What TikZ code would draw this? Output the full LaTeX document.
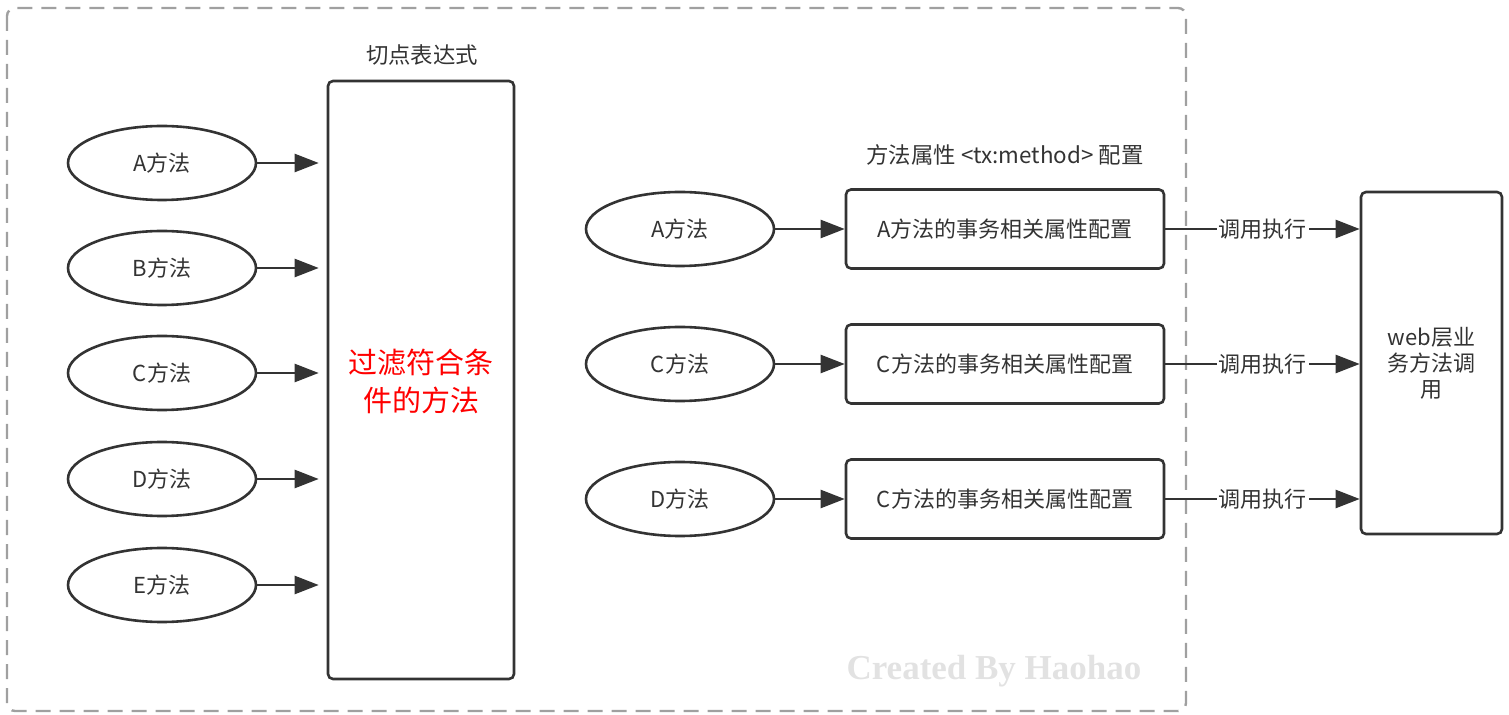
\documentclass[tikz,border=0pt]{standalone}
\usepackage{fontspec}
\setmainfont{Noto Sans CJK SC}
\newfontfamily\wmfont{Liberation Serif}
\usetikzlibrary{shapes.geometric,arrows.meta}
\definecolor{ink}{HTML}{333333}
\definecolor{frame}{HTML}{A0A0A0}
\definecolor{wmark}{HTML}{E2E2E2}
\tikzset{
  meth/.style={ellipse, draw=ink, line width=1.3pt, minimum width=94pt, minimum height=37pt, inner sep=0pt, text=ink, font=\fontsize{11}{13}\selectfont},
  boxn/.style={draw=ink, rounded corners=2.5pt, line width=1.3pt, inner sep=0pt, text=ink, font=\fontsize{11}{13}\selectfont, align=center},
  lbl/.style={text=ink, font=\fontsize{11.2}{13}\selectfont},
  conn/.style={draw=ink, line width=1.2pt, -{Triangle[length=12pt,width=9pt]}},
  callt/.style={fill=white, inner sep=1pt, text=ink, font=\fontsize{11}{13}\selectfont}
}
\begin{document}
\begin{tikzpicture}[x=0.5pt,y=-0.5pt]
\useasboundingbox (0,0) rectangle (1509,715);
% outer dashed frame
\draw[frame, line width=1.2pt, rounded corners=4pt, dash pattern=on 7.5pt off 4.5pt] (7,8) rectangle (1186,711);
% watermark
\node[text=wmark, font=\wmfont\bfseries\fontsize{17.5}{20}\selectfont] (wm) at (994,671) {Created By Haohao};

% pointcut box
\node[boxn, minimum width=93pt, minimum height=299pt] (big) at (421,380) {};
\node[text=red, font=\fontsize{14.5}{19}\selectfont, align=center] (filt) at (421,381) {过滤符合条\\件的方法};
\node[lbl] (pcl) at (422,55) {切点表达式};

% left methods
\foreach \n/\y/\lt in {a/163/A, b/268/B, c/373/C, d/479/D, e/585/E}{
  \node[meth] (l\n) at (162,\y) {\lt{}方法};
  \draw[conn, shorten >=4pt] (l\n) -- (l\n -| big.west);
}

% method attribute label
\node[lbl] (mal) at (1005,155) {方法属性 <tx:method> 配置};

% web box
\node[boxn, minimum width=70.5pt, minimum height=171pt] (web) at (1431.5,363) {web层业\\务方法调\\用};

% middle rows
\foreach \n/\y/\lt/\ut in {a/229/A/A, c/364/C/C, d/499/D/C}{
  \node[meth] (m\n) at (680,\y) {\lt{}方法};
  \node[boxn, minimum width=159pt, minimum height=39.5pt] (b\n) at (1005,\y) {\ut{}方法的事务相关属性配置};
  \draw[conn] (m\n) -- (b\n);
  \draw[conn] (b\n.east) -- node[callt] {调用执行} (b\n.east -| web.west);
}
\end{tikzpicture}
\end{document}
